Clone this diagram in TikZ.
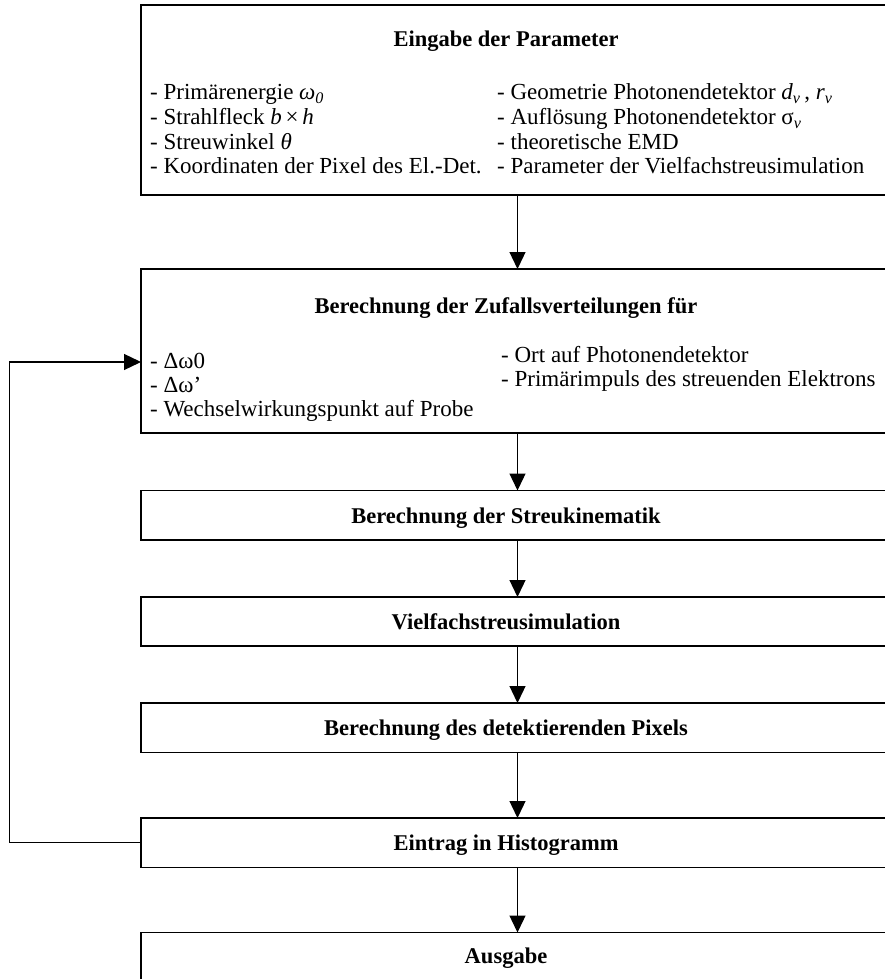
\documentclass[tikz,border=0pt]{standalone}
\usepackage{fontspec}
\setmainfont{Liberation Serif}
\usetikzlibrary{arrows.meta}
\begin{document}
\begin{tikzpicture}[x=1pt,y=-1pt,
  box/.style={draw=black,line width=1.7pt,rectangle,inner sep=0pt,outer sep=0pt,anchor=north west,minimum width=746pt},
  ttl/.style={font=\fontsize{22.5}{24}\selectfont\bfseries,anchor=base,inner sep=0pt},
  itm/.style={font=\fontsize{23}{24}\selectfont,anchor=base west,inner sep=0pt},
  conn/.style={line width=1.3pt,-{Triangle[length=17pt,width=16pt]}}]
\useasboundingbox (0,0) rectangle (885,979);
\clip (0,0) rectangle (885,979);
% boxes
\node[box,minimum height=190pt] (b1) at (141,5) {};
\node[box,minimum height=164pt] (b2) at (141,269) {};
\node[box,minimum height=49.5pt] (b3) at (141,490.5) {};
\node[box,minimum height=49pt] (b4) at (141,597) {};
\node[box,minimum height=49.5pt] (b5) at (141,703) {};
\node[box,minimum height=49.5pt] (b6) at (141,818) {};
\node[box,minimum height=52pt] (b7) at (141,932.5) {};
% titles
\node[ttl] (t1) at (506,47) {Eingabe der Parameter};
\node[ttl] (t2) at (506,313) {Berechnung der Zufallsverteilungen für};
\node[ttl] (t3) at (506,523) {Berechnung der Streukinematik};
\node[ttl] (t4) at (506,629) {Vielfachstreusimulation};
\node[ttl] (t5) at (506,735) {Berechnung des detektierenden Pixels};
\node[ttl] (t6) at (506,850) {Eintrag in Histogramm};
\node[ttl] (t7) at (506,963) {Ausgabe};
% box 1 items
\node[itm] (p1) at (150,100) {- Primärenergie \textit{ω}\textsubscript{\textit{0}}};
\node[itm] (p2) at (150,124.5) {- Strahlfleck \textit{b}\,×\,\textit{h}};
\node[itm] (p3) at (150,149) {- Streuwinkel \textit{θ}};
\node[itm] (p4) at (150,173.5) {- Koordinaten der Pixel des El.-Det.};
\node[itm] (q1) at (497,100) {- Geometrie Photonendetektor \textit{d}\textsubscript{\textit{ν}}\,, \textit{r}\textsubscript{\textit{ν}}};
\node[itm] (q2) at (497,124.5) {- Auflösung Photonendetektor σ\textsubscript{\textit{ν}}};
\node[itm] (q3) at (497,149) {- theoretische EMD};
\node[itm] (q4) at (497,173.5) {- Parameter der Vielfachstreusimulation};
% box 2 items
\node[itm] (r1) at (150,368) {- Δω0};
\node[itm] (r2) at (150,392) {- Δω’};
\node[itm] (r3) at (150,416) {- Wechselwirkungspunkt auf Probe};
\node[itm] (s1) at (501,362) {- Ort auf Photonendetektor};
\node[itm] (s2) at (501,386) {- Primärimpuls des streuenden Elektrons};
% connectors
\coordinate (ax) at (517.5,0);
\coordinate (fbx) at (9.5,0);
\coordinate (fby) at (0,362);
\draw[conn] (b1.south -| ax) -- (b2.north -| ax);
\draw[conn] (b2.south -| ax) -- (b3.north -| ax);
\draw[conn] (b3.south -| ax) -- (b4.north -| ax);
\draw[conn] (b4.south -| ax) -- (b5.north -| ax);
\draw[conn] (b5.south -| ax) -- (b6.north -| ax);
\draw[conn] (b6.south -| ax) -- (b7.north -| ax);
\draw[conn] (b6.west) -- (b6.west -| fbx) -- (fbx |- fby) -- (b2.west |- fby);
\end{tikzpicture}
\end{document}
